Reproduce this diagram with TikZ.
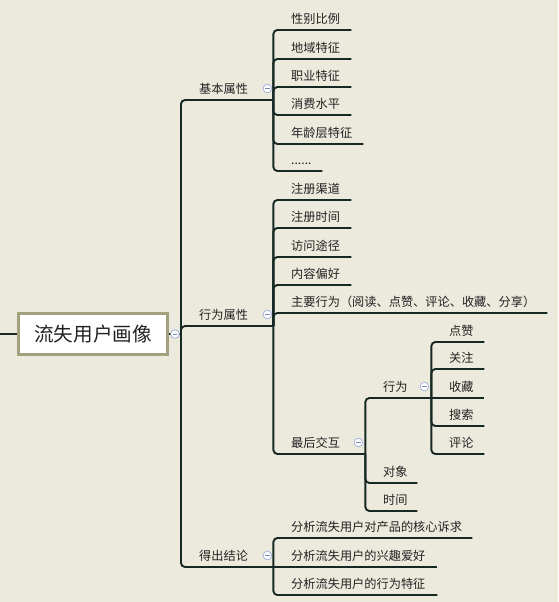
\documentclass[tikz,border=0pt]{standalone}
\usepackage{fontspec}
\newfontfamily\cjk{Noto Sans CJK SC}
\usetikzlibrary{calc}
\definecolor{bg}{RGB}{236,233,221}
\definecolor{ln}{RGB}{22,40,36}
\definecolor{rootb}{RGB}{163,160,127}
\definecolor{txt}{RGB}{34,34,34}
\definecolor{btnc}{RGB}{165,180,222}
\definecolor{btnm}{RGB}{120,135,175}
\begin{document}
\begin{tikzpicture}[x=1pt,y=-1pt,
  conn/.style={draw=ln,line width=1.9pt,rounded corners=4pt},
  topic/.style={anchor=south west,inner xsep=0pt,inner ysep=6.4pt,text width=#1,align=left,
    text height=9pt,text depth=0pt,font=\cjk\fontsize{12.2}{14}\selectfont,text=txt,
    execute at begin node={\hspace*{18pt}}},
  btn/.style={circle,draw=btnc,fill=white,line width=0.8pt,minimum size=8.6pt,inner sep=0pt,
    path picture={\draw[btnm,line width=0.9pt] ($(path picture bounding box.center)+(-2.3,0)$) -- ++(4.6,0);}}
]
\fill[bg] (0,0) rectangle (558,602);
\useasboundingbox (0,0) rectangle (558,602);

% root
\node[draw=rootb,line width=3pt,fill=white,minimum width=149pt,minimum height=41pt,inner sep=0pt,
  font=\cjk\fontsize{19.6}{22}\selectfont,text=txt] (root) at (93,334) {流失用户画像};
\coordinate (lin) at (0,334);
\coordinate (rj) at (181,334);
\draw[conn] (lin) -- (root.west);
\draw[conn] (root.east) -- (rj);

% level 1
\node[topic=92pt] (A) at (181,100) {基本属性};
\node[topic=92pt] (B) at (181,326) {行为属性};
\node[topic=92pt] (C) at (181,567) {得出结论};
\foreach \n in {A,B,C} \draw[conn] (rj) |- (\n.south east);

% 基本属性 children
\node[topic=78pt] (A1) at (273,30) {性别比例};
\node[topic=78pt] (A2) at (273,59) {地域特征};
\node[topic=78pt] (A3) at (273,87) {职业特征};
\node[topic=78pt] (A4) at (273,115) {消费水平};
\node[topic=90pt] (A5) at (273,144) {年龄层特征};
\node[topic=49pt] (A6) at (273,171) {......};
\foreach \n in {A1,A2,A3,A4,A5,A6} \draw[conn] (A.south east) |- (\n.south east);

% 行为属性 children
\node[topic=78pt] (B1) at (273,200) {注册渠道};
\node[topic=78pt] (B2) at (273,228) {注册时间};
\node[topic=78pt] (B3) at (273,257) {访问途径};
\node[topic=78pt] (B4) at (273,285) {内容偏好};
\node[topic=274pt] (B5) at (273,313) {主要行为（阅读、点赞、评论、收藏、分享）};
\node[topic=92pt] (B6) at (273,454) {最后交互};
\foreach \n in {B1,B2,B3,B4,B5,B6} \draw[conn] (B.south east) |- (\n.south east);

% 最后交互 children
\node[topic=66pt] (D1) at (365,398) {行为};
\node[topic=52pt] (D2) at (365,483) {对象};
\node[topic=52pt] (D3) at (365,511) {时间};
\foreach \n in {D1,D2,D3} \draw[conn] (B6.south east) |- (\n.south east);

% 行为 children
\node[topic=53pt] (E1) at (431,342) {点赞};
\node[topic=53pt] (E2) at (431,369) {关注};
\node[topic=53pt] (E3) at (431,398) {收藏};
\node[topic=53pt] (E4) at (431,426) {搜索};
\node[topic=53pt] (E5) at (431,454) {评论};
\foreach \n in {E1,E2,E4,E5} \draw[conn] (D1.south east) |- (\n.south east);
\draw[conn] (D1.south east) -- (E3.south east);

% 得出结论 children
\node[topic=199pt] (C1) at (273,538) {分析流失用户对产品的核心诉求};
\node[topic=164pt] (C2) at (273,567) {分析流失用户的兴趣爱好};
\node[topic=164pt] (C3) at (273,595) {分析流失用户的行为特征};
\draw[conn] (C.south east) |- (C1.south east);
\draw[conn] (C.south east) -- (C2.south east);
\draw[conn] (C.south east) |- (C3.south east);

% collapse buttons
\node[btn] (broot) at (175,334) {};
\node[btn] (bA) at ($(A.south east)+(-6,-11.5)$) {};
\node[btn] (bB) at ($(B.south east)+(-6,-11.5)$) {};
\node[btn] (bC) at ($(C.south east)+(-6,-11.5)$) {};
\node[btn] (bB6) at ($(B6.south east)+(-7,-11.5)$) {};
\node[btn] (bD1) at ($(D1.south east)+(-7,-11.5)$) {};
\end{tikzpicture}
\end{document}
